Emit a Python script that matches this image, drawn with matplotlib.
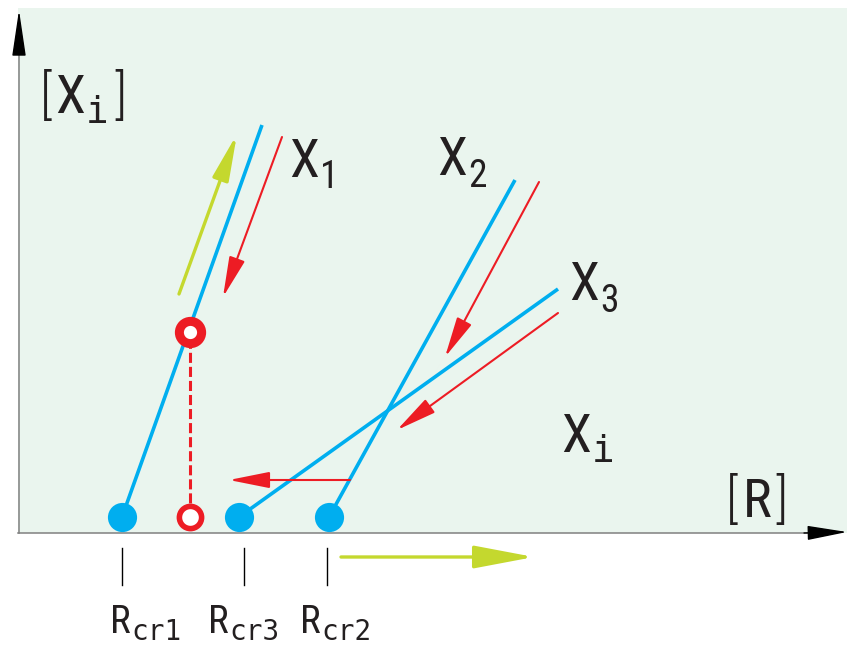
import numpy as np
import matplotlib
matplotlib.use("Agg")
from matplotlib import pyplot as plt

# schematic: critical ratio R where each X_i line hits zero
# coordinates are in the diagram's own units, origin at the axis crossing
rcr_names = ["cr1", "cr3", "cr2"]
rcr_x = [103, 220, 310]          # where X1, X3, X2 reach the axis
rcr_tick_x = [103, 225, 308]
dot_y = 16

line_names = ["1", "2", "3"]
line_start_x = [103, 310, 220]   # X1, X2, X3 start on the R axis
line_end_x = [243, 496, 539]
line_end_y = [408, 353, 244]

open_x = 171                     # red open circles (shifted R on X1)
open_y = [16, 201]

# arrows: (tail x, tail y, tip x, tip y)
green_arrows = [(160, 239, 218, 399), (322, -24, 515, -24)]
red_arrows = [(263, 396, 204, 236), (520, 351, 426, 176), (539, 220, 378, 103), (331, 53, 210, 53)]

blue = "#00aeef"
red = "#ed1c24"
green = "#c4d82e"
bg = "#eaf5ee"
ink = "#231f20"
font = ["Roboto Condensed", "Liberation Sans"]
mono = ["DejaVu Sans Mono"]

fig = plt.figure(figsize=(8.47, 6.46), dpi=100)
ax = fig.add_axes([0, 0, 1, 1])
ax.set_xlim(-19, 828)
ax.set_ylim(-113, 533)
ax.axis("off")
renderer = fig.canvas.get_renderer()

# background panel
ax.fill_between([-1, 828], 0, 525, color=bg, lw=0, zorder=0)

# axes with black heads
ax.plot([0, 0], [0, 490], color="#808080", lw=1.1, zorder=1)
ax.plot([-1, 800], [0, 0], color="#808080", lw=1.1, zorder=1)
ax.annotate("", xy=(0, 523), xytext=(0, 480),
            arrowprops=dict(arrowstyle="-|>,head_length=29,head_width=4.3", mutation_scale=1,
                            color="black", lw=1, shrinkA=0, shrinkB=0))
ax.annotate("", xy=(828, 1), xytext=(785, 0),
            arrowprops=dict(arrowstyle="-|>,head_length=25,head_width=4.5", mutation_scale=1,
                            color="black", lw=1, shrinkA=0, shrinkB=0))

# X_i lines
for i in range(3):
    ax.plot([line_start_x[i], line_end_x[i]], [dot_y, line_end_y[i]], color=blue, lw=2.6,
            solid_capstyle="butt", zorder=2)

ax.plot([open_x, open_x], open_y, color=red, lw=2.2, dashes=(3.3, 1.3), zorder=2)

# arrows
for (x0, y0, x1, y1) in green_arrows:
    hl, hw = (28, 5) if y1 != y0 else (37, 7)
    ax.annotate("", xy=(x1, y1), xytext=(x0, y0),
                arrowprops=dict(arrowstyle="-|>,head_length=%d,head_width=%d" % (hl, hw),
                                mutation_scale=1, color=green, lw=2.4, shrinkA=0, shrinkB=0),
                zorder=3)
for (x0, y0, x1, y1) in red_arrows:
    ax.annotate("", xy=(x1, y1), xytext=(x0, y0),
                arrowprops=dict(arrowstyle="-|>,head_length=25,head_width=5",
                                mutation_scale=1, color=red, lw=1.5, shrinkA=0, shrinkB=0),
                zorder=3)

# points
ax.plot(rcr_x, [dot_y] * 3, "o", color=blue, ms=21, mew=0, zorder=4)
ax.plot([open_x], [open_y[0]], "o", mfc="white", mec=red, ms=16, mew=4, zorder=4)
ax.plot([open_x], [open_y[1]], "o", mfc="white", mec=red, ms=16, mew=6.5, zorder=4)

# ticks under the R axis
for x in rcr_tick_x:
    ax.plot([x, x], [-15, -52], color="black", lw=1, zorder=2)


def right_edge(t, gap=1):
    bb = t.get_window_extent(renderer)
    return ax.transData.inverted().transform((bb.x1 + gap, 0))[0]


def label(x, y, main, sub, drop, size=39, subsize=27, subfont=font, gap=1):
    t = ax.text(x, y, main, fontsize=size, family=font, va="baseline", ha="left", color=ink)
    s = ax.text(right_edge(t, gap), y - drop, sub, fontsize=subsize, family=subfont,
                va="baseline", ha="left", color=ink)
    return s


label(270, 356, "X", line_names[0], 11)
label(418, 358, "X", line_names[1], 12)
label(550, 233, "X", line_names[2], 12)
label(542, 81, "X", "i", 10, subfont=mono)

# axis titles
b = ax.text(21, 420, "[", fontsize=39, family=font, va="baseline", ha="left", color=ink,
            fontweight="light")
s = label(right_edge(b, 3), 420, "X", "i", 10, subfont=mono)
ax.text(right_edge(s, 6), 420, "]", fontsize=39, family=font, va="baseline", ha="left",
        color=ink, fontweight="light")

b = ax.text(707, 16, "[", fontsize=39, family=font, va="baseline", ha="left", color=ink,
            fontweight="light")
r = ax.text(right_edge(b, 5), 16, "R", fontsize=39, family=font, va="baseline", ha="left",
            color=ink)
ax.text(right_edge(r, 3), 16, "]", fontsize=39, family=font, va="baseline", ha="left",
        color=ink, fontweight="light")

rcr_label_x = [91, 189, 281]
for x, name in zip(rcr_label_x, rcr_names):
    label(x, -100, "R", name, 7, size=28, subsize=20, subfont=mono)

fig.savefig("out.png", dpi=100)
